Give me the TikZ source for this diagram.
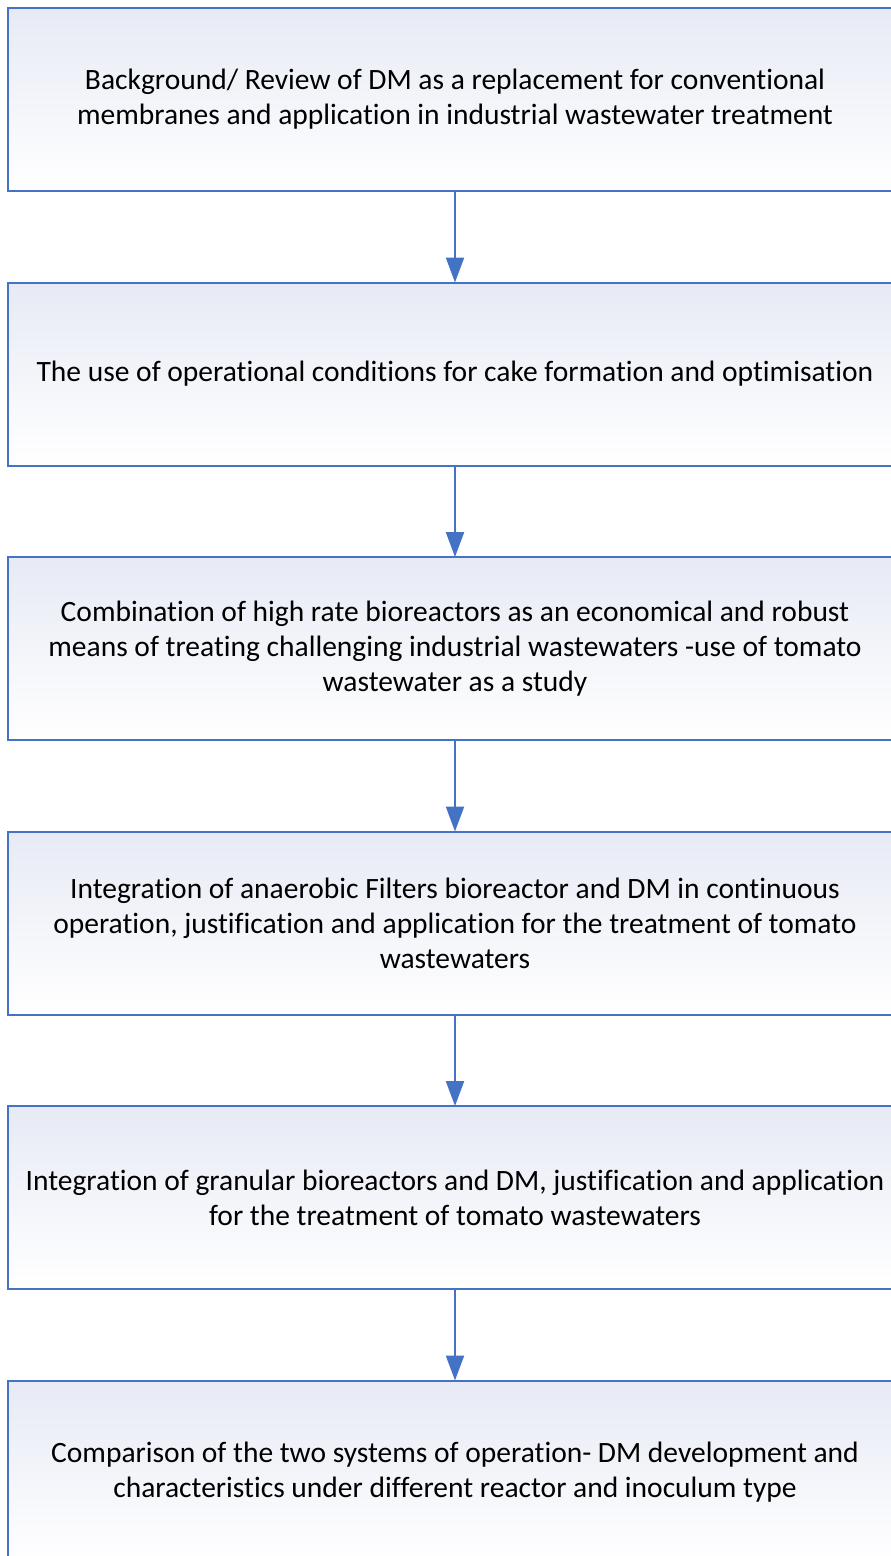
\documentclass[tikz,border=0pt]{standalone}
\usepackage{fontspec}
\setmainfont[Ligatures=NoCommon]{Carlito}
\usepackage{xcolor}
\usetikzlibrary{arrows.meta, positioning}
\definecolor{officeblue}{RGB}{68, 114, 196}
\definecolor{paleblue}{RGB}{231, 234, 245}

\begin{document}
\begin{tikzpicture}[
    node distance=91.5pt,
    stage/.style={rectangle, draw=officeblue, line width=2pt, top color=paleblue, bottom color=white, minimum width=894pt, minimum height=183pt, outer sep=0pt, align=center, font=\fontsize{29.5}{35}\selectfont},
    arrowstyle/.style={-{Triangle[length=25pt, width=18pt]}, line width=2.2pt, officeblue}
]
\useasboundingbox (0,0) rectangle (891pt,-1556pt);

% Research stages
\node[stage, anchor=north west] (review) at (8pt,-8pt) {Background/ Review of DM as a replacement for conventional\\membranes and application in industrial wastewater treatment};
\node[stage, below=of review] (cake) {The use of operational conditions for cake formation and optimisation};
\node[stage, below=of cake] (highrate) {Combination of high rate bioreactors as an economical and robust\\means of treating challenging industrial wastewaters -use of tomato\\wastewater as a study};
\node[stage, below=of highrate] (filters) {Integration of anaerobic Filters bioreactor and DM in continuous\\operation, justification and application for the treatment of tomato\\wastewaters};
\node[stage, below=of filters] (granular) {Integration of granular bioreactors and DM, justification and application\\for the treatment of tomato wastewaters};
\node[stage, below=of granular] (compare) {Comparison of the two systems of operation- DM development and\\characteristics under different reactor and inoculum type};

\draw[arrowstyle] (review) -- (cake);
\draw[arrowstyle] (cake) -- (highrate);
\draw[arrowstyle] (highrate) -- (filters);
\draw[arrowstyle] (filters) -- (granular);
\draw[arrowstyle] (granular) -- (compare);
\end{tikzpicture}
\end{document}
